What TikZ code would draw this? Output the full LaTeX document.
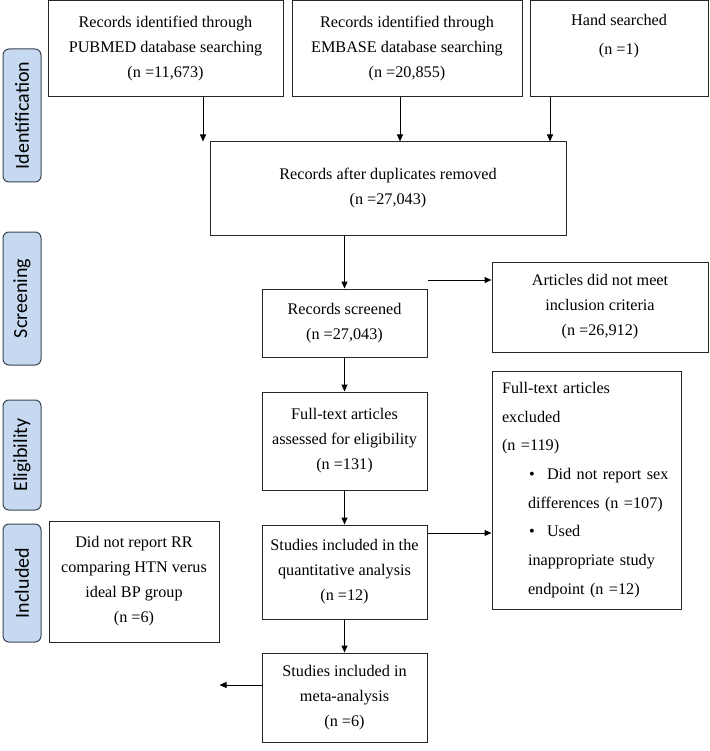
\documentclass[tikz,border=0pt]{standalone}
\usepackage{fontspec}
\setmainfont{Liberation Serif}
\newfontfamily\pillfont{Carlito}
\usetikzlibrary{arrows.meta}
\definecolor{pillfill}{HTML}{C6D9F1}
\definecolor{pillline}{HTML}{3A4654}
\tikzset{
  box/.style={draw=black!85, line width=1pt, inner sep=0pt, align=center, font=\fontsize{16.2}{25}\selectfont},
  pill/.style={draw=pillline, fill=pillfill, rounded corners=6pt, line width=1pt, inner sep=0pt, minimum height=38pt, font=\pillfont\fontsize{20}{22}\selectfont, rotate=90},
  arr/.style={-{Triangle[length=7pt,width=6pt]}, line width=1pt},
}
\begin{document}
\begin{tikzpicture}[x=1pt,y=-1pt]
\useasboundingbox (0,0) rectangle (709,751);
% phase labels
\node[pill, minimum width=133pt] (pid) at (22,115.5) {Identification};
\node[pill, minimum width=133pt] (psc) at (22,298.5) {Screening};
\node[pill, minimum width=110pt] (pel) at (22,455) {Eligibility};
\node[pill, minimum width=118pt] (pin) at (22,583) {Included};
% boxes
\node[box, minimum width=235pt, minimum height=96pt] (pub) at (165.5,49) {Records identified through\\PUBMED database searching\\(n =11,673)};
\node[box, minimum width=230pt, minimum height=96pt] (emb) at (407,49) {Records identified through\\EMBASE database searching\\(n =20,855)};
\node[box, minimum width=178pt, minimum height=96pt, font=\fontsize{16.2}{29}\selectfont] (hand) at (619,49) {Hand searched\\(n =1)\\\mbox{}};
\node[box, minimum width=356pt, minimum height=93pt] (dup) at (388,188.5) {Records after duplicates removed\\(n =27,043)};
\node[box, minimum width=165pt, minimum height=68pt] (scr) at (344.5,323) {Records screened\\(n =27,043)};
\node[box, minimum width=216pt, minimum height=90pt] (art) at (600,307) {Articles did not meet\\inclusion criteria\\(n =26,912)};
\node[box, minimum width=165pt, minimum height=98pt] (fta) at (344.5,441) {Full-text articles\\assessed for eligibility\\(n =131)};
\node[box, minimum width=165pt, minimum height=94pt] (qnt) at (344.5,572) {Studies included in the\\quantitative analysis\\(n =12)};
\node[box, minimum width=165pt, minimum height=89pt] (met) at (344.5,697.5) {Studies included in\\meta-analysis\\(n =6)};
\node[box, minimum width=170pt, minimum height=121pt] (dnr) at (134,581.5) {Did not report RR\\comparing HTN verus\\ideal BP group\\(n =6)};
\node[box, minimum width=189pt, minimum height=238pt, text width=169pt, align=left, font=\fontsize{16.2}{28.6}\selectfont] (exc) at (586.5,490) {Full-text articles\\
excluded\\
(n =119)\\
\hspace*{27pt}\makebox[18pt][l]{\textbullet}Did not report sex\\
\hspace*{26pt}differences (n =107)\\
\hspace*{27pt}\makebox[18pt][l]{\textbullet}Used\\
\hspace*{26pt}inappropriate study\\
\hspace*{26pt}endpoint (n =12)};
% helper coordinates
\coordinate (xa) at (203,0);
\coordinate (xb) at (400,0);
\coordinate (xc) at (550,0);
\coordinate (ya) at (0,280);
\coordinate (yb) at (0,533);
\coordinate (yc) at (0,685);
% connectors
\draw[arr] (pub.south -| xa) -- (dup.north -| xa);
\draw[arr] (emb.south -| xb) -- (dup.north -| xb);
\draw[arr] (hand.south -| xc) -- (dup.north -| xc);
\draw[arr] (dup.south -| scr.north) -- (scr.north);
\draw[arr] (scr.east |- ya) -- (art.west |- ya);
\draw[arr] (scr.south) -- (fta.north);
\draw[arr] (fta.south) -- (qnt.north);
\draw[arr] (qnt.east |- yb) -- (exc.west |- yb);
\draw[arr] (qnt.south) -- (met.north);
\draw[arr] (met.west |- yc) -- (dnr.east |- yc);
\end{tikzpicture}
\end{document}
